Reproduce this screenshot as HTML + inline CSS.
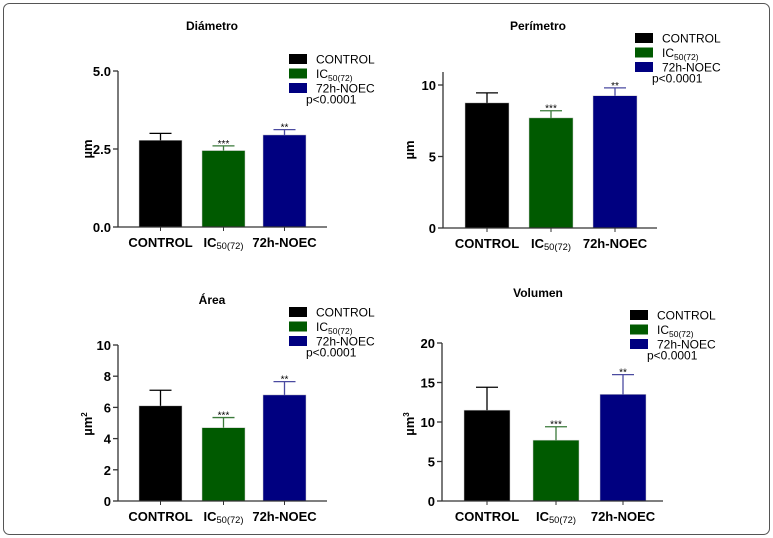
<!DOCTYPE html>
<html><head><meta charset="utf-8"><style>
body{margin:0;background:#fff;}
svg{display:block;font-family:"Liberation Sans",Arial,sans-serif;}
</style></head><body>
<svg id="c" width="773" height="538">
<rect x="3.5" y="3.5" width="766" height="531" rx="6" fill="#fff" stroke="#555" stroke-width="1"/>
</svg>
<script>
const categories = ["CONTROL", "IC50(72)", "72h-NOEC"];
const colors = ["#000000", "#005a00", "#000080"];
const stars = ["", "***", "**"];
const diametroValues = [2.78, 2.45, 2.95];
const diametroErrors = [0.22, 0.15, 0.17];
const diametroTicks = ["0.0", "2.5", "5.0"];
const perimetroValues = [8.75, 7.7, 9.25];
const perimetroErrors = [0.7, 0.5, 0.55];
const perimetroTicks = ["0", "5", "10"];
const areaValues = [6.1, 4.7, 6.8];
const areaErrors = [1.0, 0.65, 0.85];
const areaTicks = ["0", "2", "4", "6", "8", "10"];
const volumenValues = [11.5, 7.7, 13.5];
const volumenErrors = [2.9, 1.7, 2.5];
const volumenTicks = ["0", "5", "10", "15", "20"];

const NS = "http://www.w3.org/2000/svg";
const svg = document.getElementById("c");
function mk(tag, attrs, parent) {
  const e = document.createElementNS(NS, tag);
  for (const k in attrs) e.setAttribute(k, attrs[k]);
  (parent || svg).appendChild(e);
  return e;
}
function catLabel(g, x, y, text, size, bold) {
  const t = mk("text", {x: x, y: y, "text-anchor": "middle", "font-size": size, "font-weight": bold ? "bold" : "normal", fill: "#000"}, g);
  if (text === "IC50(72)") {
    const a = document.createElementNS(NS, "tspan"); a.textContent = "IC"; t.appendChild(a);
    const b = document.createElementNS(NS, "tspan"); b.textContent = "50(72)";
    b.setAttribute("font-size", size * 0.72); b.setAttribute("font-weight", "normal"); b.setAttribute("dy", "2"); t.appendChild(b);
  } else t.textContent = text;
  return t;
}
function panel(p) {
  const g = mk("g", {});
  
  
  const ymax = p.ymax;
  const y = v => p.y0 - (v / ymax) * (p.y0 - p.yTop);
  const t = mk("text", {x: p.titleX, y: p.titleY, "text-anchor": "middle", "font-size": 12, "font-weight": "bold"}, g);
  t.textContent = p.title;
  
  
  p.values.forEach((v, i) => {
    const x0 = p.barX[i], w = p.barW;
    const r = mk("rect", {x: x0, y: y(v), width: w, height: p.y0 - y(v), fill: colors[i], stroke: "#ccc", "stroke-width": 0.5}, g);
    
    
    const cx = x0 + w / 2, top = y(v + p.errors[i]);
    const ec = i === 0 ? "#000" : (i === 1 ? "#3a7a3a" : "#4a4aa0");
    const e1 = mk("line", {x1: cx, x2: cx, y1: y(v), y2: top, stroke: ec, "stroke-width": 1.3}, g);
    
    
    mk("line", {x1: cx - 11, x2: cx + 11, y1: top, y2: top, stroke: ec, "stroke-width": 1.3}, g);
    if (stars[i]) {
      const s = mk("text", {x: cx, y: top + 1, "text-anchor": "middle", "font-size": 10}, g);
      s.textContent = stars[i];
      
      
    }
    mk("line", {x1: cx, x2: cx, y1: p.y0, y2: p.y0 + 4, stroke: "#333", "stroke-width": 1}, g);
    const cl = catLabel(g, cx, p.y0 + 20, categories[i], 13, true);
    
    
  });
  const ya = mk("line", {x1: p.ax, x2: p.ax, y1: p.axTop, y2: p.y0, stroke: "#333", "stroke-width": 1.3}, g);
  
  
  const xa = mk("line", {x1: p.ax, x2: p.axRight, y1: p.y0, y2: p.y0, stroke: "#333", "stroke-width": 1.3}, g);
  
  
  p.ticks.forEach(tk => {
    const ty = y(parseFloat(tk));
    mk("line", {x1: p.ax - 5, x2: p.ax, y1: ty, y2: ty, stroke: "#333", "stroke-width": 1.3}, g);
    const tl = mk("text", {x: p.ax - 7, y: ty + 5, "text-anchor": "end", "font-size": 13, "font-weight": "bold"}, g);
    tl.textContent = tk;
    
    
  });
  const yt = mk("text", {transform: `translate(${p.ylX},${p.ylY}) rotate(-90)`, "text-anchor": "middle", "font-size": 13, "font-weight": "bold"}, g);
  yt.textContent = p.unit;
  if (p.sup) { const s = document.createElementNS(NS, "tspan"); s.textContent = p.sup; s.setAttribute("font-size", 8); s.setAttribute("dy", "-5"); yt.appendChild(s); }
  
  
  categories.forEach((c, i) => {
    const ly = p.legY + i * 14.5;
    const sq = mk("rect", {x: p.legX, y: ly - 5, width: 18, height: 10, fill: colors[i]}, g);
    
    
    const lt = mk("text", {x: p.legX + 27, y: ly + 4.5, "font-size": 12}, g);
    if (c === "IC50(72)") {
      const a = document.createElementNS(NS, "tspan"); a.textContent = "IC"; lt.appendChild(a);
      const b = document.createElementNS(NS, "tspan"); b.textContent = "50(72)"; b.setAttribute("font-size", 8.5); b.setAttribute("dy", "3"); lt.appendChild(b);
    } else lt.textContent = c;
    
    
  });
  const pv = mk("text", {x: p.legX + 17, y: p.legY + 3 * 14.5 + 1, "font-size": 12}, g);
  pv.textContent = "p<0.0001";
  
  
}
panel({name: "diametro", title: "Diámetro", titleX: 212, titleY: 30, values: diametroValues, errors: diametroErrors, ticks: diametroTicks,
  ymax: 5, y0: 227, yTop: 71, axTop: 71, ax: 118, axRight: 327, barX: [139, 202, 263], barW: 43,
  unit: "µm", ylX: 92, ylY: 149, legX: 289, legY: 59});
panel({name: "perimetro", title: "Perímetro", titleX: 538, titleY: 30, values: perimetroValues, errors: perimetroErrors, ticks: perimetroTicks,
  ymax: 10, y0: 228, yTop: 85, axTop: 72, ax: 443, axRight: 657, barX: [465, 529, 593], barW: 44,
  unit: "µm", ylX: 414, ylY: 150, legX: 635, legY: 38});
panel({name: "area", title: "Área", titleX: 212, titleY: 304, values: areaValues, errors: areaErrors, ticks: areaTicks,
  ymax: 10, y0: 501, yTop: 345, axTop: 345, ax: 118, axRight: 327, barX: [139, 202, 263], barW: 43,
  unit: "µm", sup: "2", ylX: 92, ylY: 424, legX: 289, legY: 312});
panel({name: "volumen", title: "Volumen", titleX: 538, titleY: 297, values: volumenValues, errors: volumenErrors, ticks: volumenTicks,
  ymax: 20, y0: 501, yTop: 343, axTop: 343, ax: 442, axRight: 663, barX: [464, 533, 600], barW: 46,
  unit: "µm", sup: "3", ylX: 414, ylY: 424, legX: 630, legY: 315});
</script>
</body></html>
